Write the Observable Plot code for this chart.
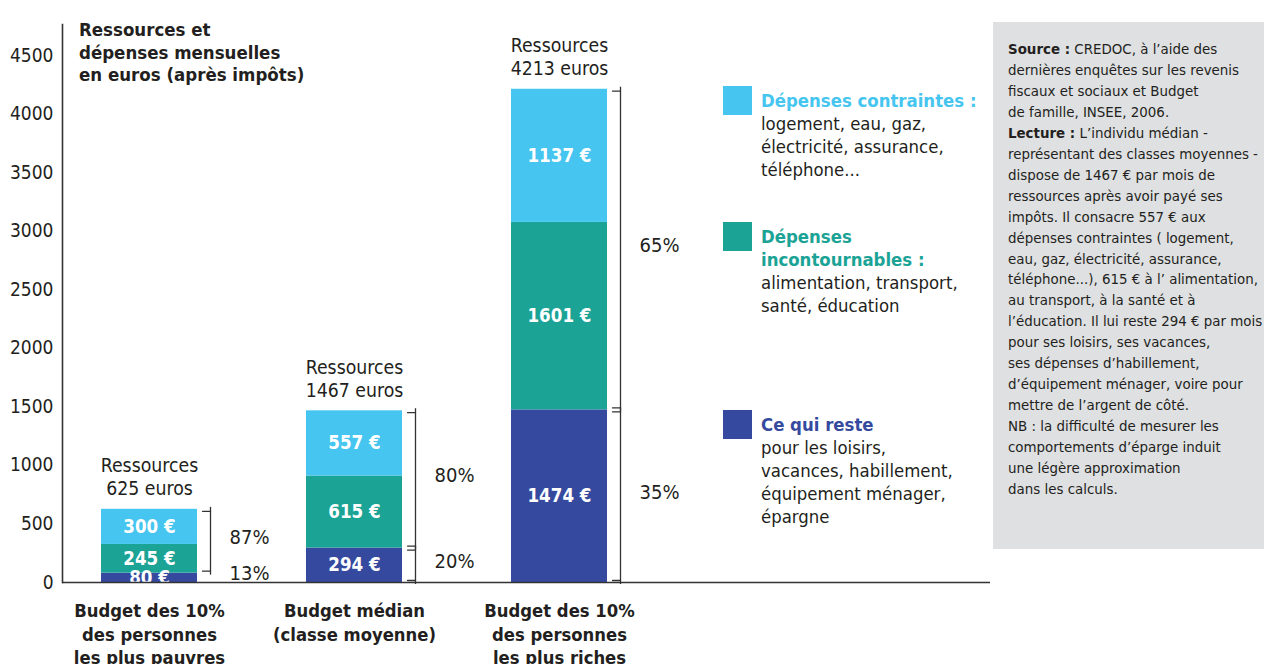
<!DOCTYPE html>
<html><head><meta charset="utf-8">
<script src="https://cdn.jsdelivr.net/npm/d3@7"></script>
<script src="https://cdn.jsdelivr.net/npm/@observablehq/plot@0.6"></script>
<style>
body{margin:0;background:#fff;}
#wrap{position:relative;width:1264px;height:664px;overflow:hidden;font-family:"DejaVu Sans Condensed","Liberation Sans",sans-serif;color:#231f20;}
#chart{position:absolute;left:0;top:0;}
#title{position:absolute;left:79px;top:19px;font-weight:bold;font-size:18.5px;line-height:22.5px;}
#title span{background:#fff;display:inline-block;padding-right:3px;}
.sw{position:absolute;left:723px;width:29px;height:29px;}
.lt{position:absolute;left:761px;font-size:18.4px;line-height:23px;white-space:nowrap;}
#src{position:absolute;left:993px;top:22px;width:271px;height:527px;background:#dfe0e2;box-sizing:border-box;padding:17px 0 0 15px;font-size:14.9px;line-height:20.95px;white-space:nowrap;}
</style></head>
<body><div id="wrap">
<div id="chart"></div>
<div id="title"><span>Ressources et</span><br><span>dépenses mensuelles</span><br><span>en euros (après impôts)</span></div>
<div id="legend"></div>
<div id="src"><b>Source :</b> CREDOC, à l’aide des<br>dernières enquêtes sur les revenis<br>fiscaux et sociaux et Budget<br>de famille, INSEE, 2006.<br><b>Lecture :</b> L’individu médian -<br>représentant des classes moyennes -<br>dispose de 1467 € par mois de<br>ressources après avoir payé ses<br>impôts. Il consacre 557 € aux<br>dépenses contraintes ( logement,<br>eau, gaz, électricité, assurance,<br>téléphone...), 615 € à l’ alimentation,<br>au transport, à la santé et à<br>l’éducation. Il lui reste 294 € par mois<br>pour ses loisirs, ses vacances,<br>ses dépenses d’habillement,<br>d’équipement ménager, voire pour<br>mettre de l’argent de côté.<br>NB : la difficulté de mesurer les<br>comportements d’éparge induit<br>une légère approximation<br>dans les calculs.</div>
</div>
<script>
// ---- data ----
const categories = ["Budget des 10%\ndes personnes\nles plus pauvres", "Budget médian\n(classe moyenne)", "Budget des 10%\ndes personnes\nles plus riches"];
const series = ["Ce qui reste", "Dépenses incontournables", "Dépenses contraintes"];
const colors = ["#354a9f", "#1ba396", "#45c5ef"];
const resteValues = [80, 294, 1474];
const incontournablesValues = [245, 615, 1601];
const contraintesValues = [300, 557, 1137];
const ressources = [625, 1467, 4213];
const yTicks = [0, 500, 1000, 1500, 2000, 2500, 3000, 3500, 4000, 4500];
const yTop = 4765;
const bracketCat = [0, 1, 1, 2, 2];
const bracketLow = [80, 294, 0, 1474, 0];
const bracketHigh = [625, 1467, 294, 4213, 1474];
const pctCat = [0, 0, 1, 1, 2, 2];
const pctLow = [80, 0, 294, 0, 1474, 0];
const pctHigh = [625, 80, 1467, 294, 4213, 1474];
const pctLabels = ["87%", "13%", "80%", "20%", "65%", "35%"];
const legendTitles = [["Dépenses contraintes :"], ["Dépenses", "incontournables :"], ["Ce qui reste"]];
const legendTexts = [["logement, eau, gaz,", "électricité, assurance,", "téléphone..."], ["alimentation, transport,", "santé, éducation"], ["pour les loisirs,", "vacances, habillement,", "équipement ménager,", "épargne"]];

// ---- tables ----
const seriesValues = [resteValues, incontournablesValues, contraintesValues];
const rows = [];
categories.forEach((c, i) => series.forEach((s, j) => rows.push({cat: c, serie: s, value: seriesValues[j][i]})));
const ressRows = categories.map((c, i) => ({cat: c, total: ressources[i]}));
const brackets = bracketCat.map((c, i) => ({cat: categories[c], low: bracketLow[i], high: bracketHigh[i]}));
const pcts = pctCat.map((c, i) => ({cat: categories[c], low: pctLow[i], high: pctHigh[i], label: pctLabels[i]}));

const FONT = '"DejaVu Sans Condensed","Liberation Sans",sans-serif';
const ink = "#231f20";
const lineShape = {draw(ctx, l) { ctx.moveTo(0, 0); ctx.lineTo(0, -l); }};

const chart = Plot.plot({
  width: 990, height: 664,
  marginLeft: 62, marginRight: 0, marginTop: 24, marginBottom: 82,
  style: {fontFamily: FONT, fontSize: "19px", color: ink, background: "transparent"},
  x: {domain: categories, range: [62, 645], paddingInner: 0.533, paddingOuter: 0.185, label: null},
  y: {domain: [0, yTop], label: null},
  color: {domain: series, range: colors},
  marks: [
    Plot.ruleY(yTicks.slice(1), {y: d => d, x2: () => categories[2], stroke: "#e0e0e0", strokeWidth: 1.5}),
    Plot.barY(rows, {x: "cat", y: "value", fill: "serie"}),
    Plot.text(rows, Plot.stackY({x: "cat", y: "value", text: d => `${d.value} €`, fill: "white", fontWeight: "bold", fontSize: 18.6})),
    Plot.text(ressRows, {x: "cat", y: "total", text: d => `Ressources\n${d.total} euros`, lineAnchor: "bottom", dy: -14, fontSize: 19.3, lineHeight: 1.2, fill: ink}),
    Plot.ruleX(brackets, {x: "cat", y1: "low", y2: "high", dx: 61, insetTop: 2, insetBottom: 2, stroke: "#333", strokeWidth: 1.3}),
    Plot.vector(brackets, {x: "cat", y: "high", dx: 61, dy: 2, length: 8, rotate: -90, anchor: "start", shape: lineShape, stroke: "#333", strokeWidth: 1.3}),
    Plot.vector(brackets, {x: "cat", y: "low", dx: 61, dy: -2, length: 8, rotate: -90, anchor: "start", shape: lineShape, stroke: "#333", strokeWidth: 1.3}),
    Plot.text(pcts, {x: "cat", y: d => (d.low + d.high) / 2, text: "label", dx: 80, dy: -4, textAnchor: "start", fontSize: 20, fill: ink}),
    Plot.ruleY([0], {stroke: "#333", strokeWidth: 1.6}),
    Plot.frame({anchor: "left", stroke: "#333", strokeWidth: 1.6}),
    Plot.axisY({ticks: yTicks, tickFormat: d => String(d), tickSize: 0, tickPadding: 9, fontSize: 19, fill: ink}),
    Plot.axisX({tickSize: 0, tickPadding: 18, fontWeight: "bold", fontSize: 18.3, lineHeight: 1.28, fill: ink})
  ]
});
document.getElementById("chart").appendChild(chart);

// legend
const legendTops = [86, 222, 410];
const legendColors = [colors[2], colors[1], colors[0]];
const leg = document.getElementById("legend");
legendTitles.forEach((t, i) => {
  const sw = document.createElement("div");
  sw.className = "sw"; sw.style.top = legendTops[i] + "px"; sw.style.background = legendColors[i];
  leg.appendChild(sw);
  const lt = document.createElement("div");
  lt.className = "lt"; lt.style.top = (legendTops[i] + 3) + "px";
  lt.innerHTML = t.map(s => `<b style="color:${legendColors[i]}">${s}</b>`).join("<br>") + "<br>" + legendTexts[i].join("<br>");
  leg.appendChild(lt);
});
</script>
</body></html>
